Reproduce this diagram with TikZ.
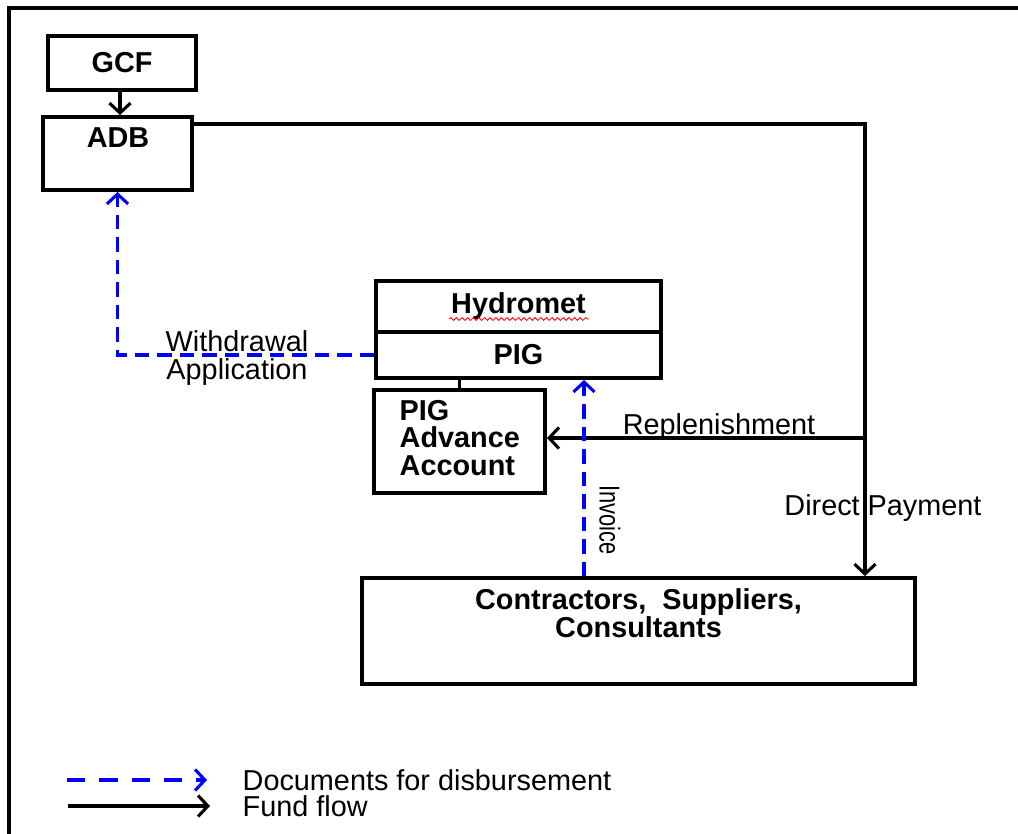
\documentclass[tikz,border=0pt]{standalone}
\usepackage{fontspec}
\setmainfont{Liberation Sans}
\usetikzlibrary{arrows.meta,decorations.pathmorphing}
\newcommand\bodyfont{\fontsize{20.5}{19.5}\selectfont}

\begin{document}
\begin{tikzpicture}[x=0.025cm,y=-0.025cm,
        every node/.style={font=\bodyfont,inner sep=1pt},
        bold/.style={font=\bodyfont\bfseries},
        box/.style={draw,line width=2.8pt},
        fund/.style={line width=2.2pt,-{Straight Barb[length=7pt,width=15pt]}},
        doc/.style={blue,line width=2.2pt,dash pattern=on 10pt off 6pt,-{Straight Barb[length=7pt,width=15pt]}}]
        \useasboundingbox (0,0) rectangle (1018,834);
        \draw[line width=2.8pt] (9,834) -- (9,8) -- (1018,8);
        % boxes
        \node[box,bold,minimum width=3.7cm,minimum height=1.35cm] (gcf) at (122,63) {GCF};
        \node[box,minimum width=3.725cm,minimum height=1.825cm] (adb) at (117.5,153.5) {};
        \node[bold] (adbtxt) at (118,138) {ADB};
        \node[box,bold,minimum width=7.125cm,minimum height=1.275cm] (hyd) at (518.5,306.5) {Hydromet};
        \draw[red,line width=0.6pt,decorate,decoration={snake,amplitude=1pt,segment length=4pt}] (449,319) -- (589,319);
        \node[box,bold,minimum width=7.125cm,minimum height=1.15cm] (pig) at (518.5,355) {PIG};
        \node[box,minimum width=4.275cm,minimum height=2.575cm] (adv) at (459.5,441.5) {};
        \node[bold,anchor=west,align=left] (advtxt) at (398,438) {PIG\\Advance\\Account};
        \node[box,minimum width=13.825cm,minimum height=2.65cm] (con) at (638.5,631) {};
        \node[bold,align=center] (contxt) at (638.5,613) {Contractors,\ \ Suppliers,\\Consultants};
        % fund flow
        \coordinate (top) at (865,124);
        \coordinate (rep) at (865,438);
        \draw[fund] (gcf.south -| 120,0) -- (adb.north -| 120,0);
        \draw[fund] (adb.east |- top) -| (con.north -| top);
        \draw[fund] (rep) -- (adv.east |- rep);
        \draw[line width=2.2pt] (pig.south -| adv.north) -- (adv.north);
        % documents
        \coordinate (inv) at (584,480);
        \draw[doc] (pig.west) -| (adb.south);
        \draw[doc] (con.north -| inv) -- (pig.south -| inv);
        % labels
        \node[align=center] (wd) at (237,358) {Withdrawal\\Application};
        \node (replab) at (719,427) {Replenishment};
        \node (dplab) at (883,508) {Direct Payment};
        \node[rotate=-90] (invlab) at (610,520) {\scalebox{0.76}[1]{Invoice}};
        % legend
        \coordinate (d0) at (67,780);
        \coordinate (d1) at (207,780);
        \coordinate (f0) at (68,806);
        \coordinate (f1) at (210,806);
        \draw[doc,dash pattern=on 13pt off 10pt] (d0) -- (d1);
        \draw[fund] (f0) -- (f1);
        \node[anchor=west] (docleg) at (241,780) {Documents for disbursement};
        \node[anchor=west] (fundleg) at (241,806) {Fund flow};
\end{tikzpicture}
\end{document}
